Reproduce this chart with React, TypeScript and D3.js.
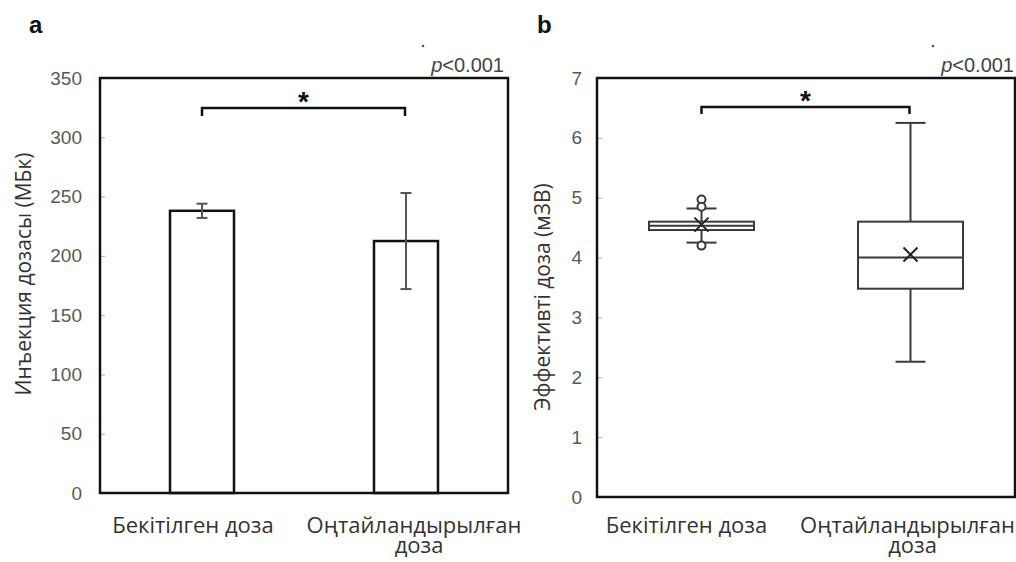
import React, {useEffect, useRef} from 'react';
import {select, scaleBand, scaleLinear, axisLeft, format} from 'd3';

// categories
const categories = ['Бекітілген доза', 'Оңтайландырылған доза'];
const labelLines = [['Бекітілген доза'], ['Оңтайландырылған', 'доза']];

// panel a: injected dose (MBq), mean and SD
const doseMean = [238, 212.5];
const doseSd = [6, 40.5];
const doseTicks = [0, 50, 100, 150, 200, 250, 300, 350];

// panel b: effective dose (mSv), box plot stats
const q1 = [4.46, 3.48];
const median = [4.53, 4.0];
const q3 = [4.6, 4.6];
const whiskerLow = [4.25, 2.26];
const whiskerHigh = [4.82, 6.25];
const meanEff = [4.55, 4.05];
const outliers = [[4.97, 4.85, 4.2], []];
const effTicks = [0, 1, 2, 3, 4, 5, 6, 7];

const pText = 'p<0.001';

function App() {
    const svgRef = useRef(null);
    useEffect(() => {
        const svg = select(svgRef.current);
        svg.selectAll('*').remove();
        const sans = 'Liberation Sans, Arial, sans-serif';
        const open = '"Open Sans", "Noto Sans", sans-serif';

        // ---------- panel a ----------
        const xa = scaleBand().domain(categories).range([100, 508]);
        const ya = scaleLinear().domain([0, 350]).range([493, 78]);
        const ga = svg.append('g');

        const axA = ga.append('g').attr('transform', 'translate(100,0)')
            .call(axisLeft(ya).tickValues(doseTicks).tickFormat(format('d')).tickSizeInner(-5).tickSizeOuter(0).tickPadding(18));
        axA.select('.domain').remove();
        axA.selectAll('line').attr('stroke', '#aaa');
        axA.selectAll('text').attr('fill', '#595959').style('font-size', '19px').style('font-family', sans);

        const bw = 64;
        ga.selectAll('.bar').data(categories).join('rect')
            .attr('class', 'bar')
            .attr('x', d => xa(d) + xa.bandwidth() / 2 - bw / 2)
            .attr('width', bw)
            .attr('y', (d, i) => ya(doseMean[i]))
            .attr('height', (d, i) => ya(0) - ya(doseMean[i]))
            .attr('fill', 'white').attr('stroke', '#111').attr('stroke-width', 2.5);

        const err = ga.selectAll('.err').data(categories).join('g').attr('class', 'err')
            .attr('stroke', '#555').attr('stroke-width', 2);
        err.append('line')
            .attr('x1', d => xa(d) + xa.bandwidth() / 2).attr('x2', d => xa(d) + xa.bandwidth() / 2)
            .attr('y1', (d, i) => ya(doseMean[i] - doseSd[i])).attr('y2', (d, i) => ya(doseMean[i] + doseSd[i]));
        [-1, 1].forEach(s => {
            err.append('line')
                .attr('x1', d => xa(d) + xa.bandwidth() / 2 - 5.5).attr('x2', d => xa(d) + xa.bandwidth() / 2 + 5.5)
                .attr('y1', (d, i) => ya(doseMean[i] + s * doseSd[i])).attr('y2', (d, i) => ya(doseMean[i] + s * doseSd[i]));
        });

        ga.append('rect').attr('x', 100).attr('y', 78).attr('width', 408).attr('height', 415)
            .attr('fill', 'none').attr('stroke', '#111').attr('stroke-width', 2.5);

        // ---------- panel b ----------
        const xb = scaleBand().domain(categories).range([597, 1015]);
        const yb = scaleLinear().domain([0, 7]).range([497, 78]);
        const gb = svg.append('g');

        const axB = gb.append('g').attr('transform', 'translate(597,0)')
            .call(axisLeft(yb).tickValues(effTicks).tickFormat(format('d')).tickSizeInner(-5).tickSizeOuter(0).tickPadding(15));
        axB.select('.domain').remove();
        axB.selectAll('line').attr('stroke', '#aaa');
        axB.selectAll('text').attr('fill', '#595959').style('font-size', '19px').style('font-family', sans);

        const boxW = 105, capW = 30;
        categories.forEach((c, i) => {
            const cx = xb(c) + xb.bandwidth() / 2;
            const g = gb.append('g').attr('stroke', '#3a3a3a').attr('stroke-width', 2).attr('fill', 'none');
            g.append('line').attr('x1', cx).attr('x2', cx).attr('y1', yb(q3[i])).attr('y2', yb(whiskerHigh[i]));
            g.append('line').attr('x1', cx).attr('x2', cx).attr('y1', yb(q1[i])).attr('y2', yb(whiskerLow[i]));
            [whiskerHigh[i], whiskerLow[i]].forEach(v => {
                g.append('line').attr('x1', cx - capW / 2).attr('x2', cx + capW / 2).attr('y1', yb(v)).attr('y2', yb(v));
            });
            g.append('rect').attr('x', cx - boxW / 2).attr('width', boxW)
                .attr('y', yb(q3[i])).attr('height', yb(q1[i]) - yb(q3[i])).attr('fill', 'white');
            g.append('line').attr('x1', cx - boxW / 2).attr('x2', cx + boxW / 2).attr('y1', yb(median[i])).attr('y2', yb(median[i]));
            const my = yb(meanEff[i]), m = 7;
            g.append('path').attr('d', `M${cx - m},${my - m}L${cx + m},${my + m}M${cx - m},${my + m}L${cx + m},${my - m}`)
                .attr('stroke', '#222');
            g.selectAll('circle').data(outliers[i]).join('circle')
                .attr('cx', cx).attr('cy', d => yb(d)).attr('r', 4).attr('fill', 'white');
        });

        gb.append('rect').attr('x', 597).attr('y', 78).attr('width', 418).attr('height', 419)
            .attr('fill', 'none').attr('stroke', '#111').attr('stroke-width', 2.5);

        // ---------- shared decorations ----------
        const panels = [
            {x: xa, y: 108, drop: 8, letter: 'a', lx: 29, py: 72, pr: 504, dotx: 423, ylab: 'Инъекция дозасы (МБк)', ylx: 31, yly: 274, offs: [-9, 8]},
            {x: xb, y: 107, drop: 7, letter: 'b', lx: 537, py: 72, pr: 1014, dotx: 933, ylab: 'Эффективті доза (мЗВ)', ylx: 550, yly: 297, offs: [-15, -3]},
        ];
        panels.forEach(p => {
            const c0 = p.x(categories[0]) + p.x.bandwidth() / 2;
            const c1 = p.x(categories[1]) + p.x.bandwidth() / 2 - 1;
            svg.append('path')
                .attr('d', `M${c0},${p.y + p.drop}V${p.y}H${c1}V${p.y + p.drop}`)
                .attr('fill', 'none').attr('stroke', '#111').attr('stroke-width', 2.5);
            svg.append('text').attr('x', (c0 + c1) / 2).attr('y', p.y + 3)
                .attr('text-anchor', 'middle').style('font-family', sans).style('font-weight', 'bold')
                .style('font-size', '28px').attr('fill', '#111').text('*');
            svg.append('text').attr('x', p.lx).attr('y', 33).style('font-family', sans).style('font-weight', 'bold')
                .style('font-size', '24px').attr('fill', '#111').text(p.letter);
            const t = svg.append('text').attr('x', p.pr).attr('y', p.py).attr('text-anchor', 'end')
                .style('font-family', sans).style('font-size', '20px').attr('fill', '#444');
            t.append('tspan').style('font-style', 'italic').text(pText.slice(0, 1));
            t.append('tspan').text(pText.slice(1));
            svg.append('circle').attr('cx', p.dotx).attr('cy', 46).attr('r', 1.3).attr('fill', '#555');
            svg.append('text').attr('transform', `translate(${p.ylx},${p.yly}) rotate(-90)`)
                .attr('text-anchor', 'middle').style('font-family', open).style('font-size', '21px')
                .attr('fill', '#333').text(p.ylab);
            categories.forEach((c, i) => {
                const cx = p.x(c) + p.x.bandwidth() / 2 + p.offs[i];
                labelLines[i].forEach((ln, j) => {
                    svg.append('text').attr('x', cx + (j > 0 ? 5 : 0)).attr('y', 533 + j * 20)
                        .attr('text-anchor', 'middle').style('font-family', open).style('font-size', '22px')
                        .attr('fill', '#333').text(ln);
                });
            });
        });
    }, []);

    return (
        <div style={{position: 'absolute', left: 0, top: 0, width: '1016px', height: '562px', background: 'white'}}>
            <svg ref={svgRef} width={1016} height={562} style={{display: 'block'}}></svg>
        </div>
    );
}

export default App;
